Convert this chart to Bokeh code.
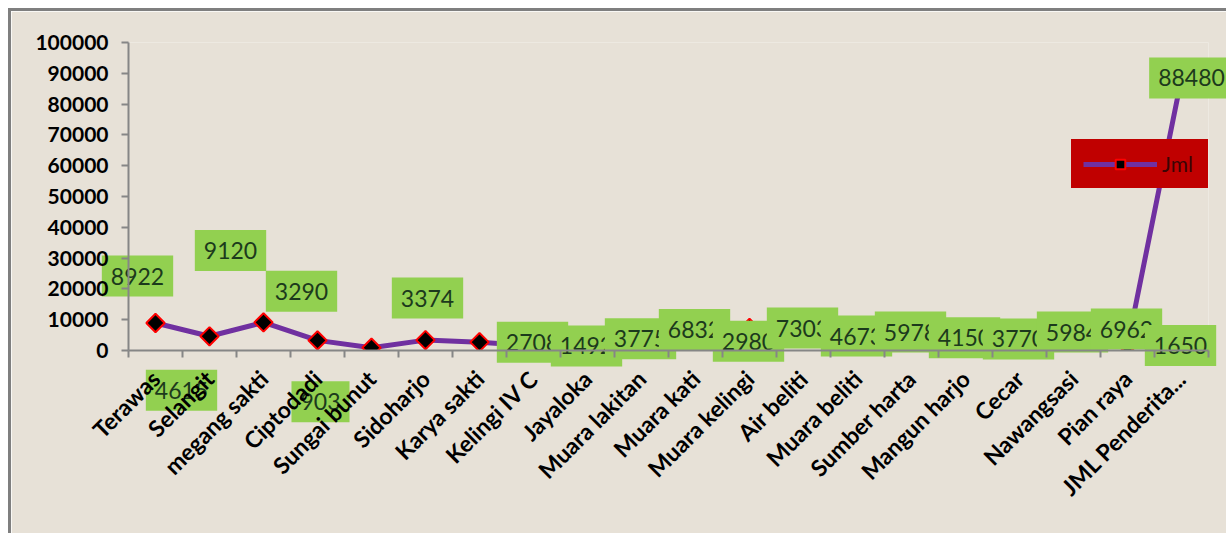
import math
from bokeh.plotting import figure
from bokeh.models import (ColumnDataSource, FixedTicker, Range1d, Legend, LegendItem,
                          BasicTickFormatter)
from bokeh.core.properties import value
from bokeh.embed import file_html
from bokeh.resources import INLINE

# ---- data ----
villages = ["Terawas", "Selangit", "megang sakti", "Ciptodadi", "Sungai bunut",
            "Sidoharjo", "Karya sakti", "Kelingi IV C", "Jayaloka", "Muara lakitan",
            "Muara kati", "Muara kelingi", "Air beliti", "Muara beliti", "Sumber harta",
            "Mangun harjo", "Cecar", "Nawangsasi", "Pian raya", "JML Penderita..."]
jml = [8922, 4615, 9120, 3290, 903, 3374, 2708, 1492, 3775, 6832,
       2980, 7303, 4673, 5978, 4150, 3770, 5984, 6962, 1650, 88480]
y_ticks = [0, 10000, 20000, 30000, 40000, 50000, 60000, 70000, 80000, 90000, 100000]
series_name = "Jml"

# ---- label placement (pixel offsets, styling only; dy positive = up) ----
label_dx = [-18, -28, -33, -16, -51, 2, 53, 53, 53, 53, 53, 53, 53, 53, 53, 53, 53, 53, 53, 10]
label_dy = [47, -54, 72, 49, -54, 42, 0, 0, 0, 0, 0, 0, 0, 0, 0, 0, 0, 0, 0, 0]

xs = list(range(len(villages)))
src = ColumnDataSource(dict(x=xs, y=jml, label=[str(v) for v in jml],
                            dx=label_dx, dy=[-d for d in label_dy]))

BG = "#E7E1D7"
FONT = "Lato"

p = figure(width=1218, height=525, output_backend="svg", toolbar_location=None,
           x_range=Range1d(-0.5, len(villages) - 0.5), y_range=Range1d(0, 100000),
           min_border_left=117, min_border_top=31, min_border_bottom=186,
           min_border_right=21)
p.styles = {"margin-left": "8px", "margin-top": "8px",
            "border-left": "3px solid #7f7f7f", "border-top": "3px solid #7f7f7f"}
p.background_fill_color = BG
p.border_fill_color = BG
p.outline_line_color = None
p.xgrid.visible = False
p.ygrid.visible = False

line_r = p.line("x", "y", source=src, line_color="#7030A0", line_width=5,
                line_join="round")
pts_r = p.scatter("x", "y", source=src, marker="square", angle=math.pi / 4,
                  size=13, fill_color="black", line_color="#FF0000", line_width=2)

# axes
xa = p.xaxis[0]
xa.ticker = FixedTicker(ticks=xs, minor_ticks=[i - 0.5 for i in range(len(villages) + 1)])
xa.major_label_overrides = {i: n for i, n in zip(xs, villages)}
xa.major_label_orientation = math.pi / 4
xa.major_tick_line_color = None
xa.major_tick_out = 0
xa.major_tick_in = 0
xa.minor_tick_out = 7
xa.minor_tick_in = 0
xa.minor_tick_line_color = "#868686"
xa.minor_tick_line_width = 2
xa.axis_line_color = "#868686"
xa.axis_line_width = 2
xa.major_label_text_font = FONT
xa.major_label_text_font_style = "bold"
xa.major_label_text_font_size = "23px"
xa.major_label_text_color = "black"
xa.major_label_standoff = 17

ya = p.yaxis[0]
ya.ticker = FixedTicker(ticks=y_ticks)
ya.formatter = BasicTickFormatter(use_scientific=False)
ya.minor_tick_line_color = None
ya.major_tick_out = 7
ya.major_tick_in = 0
ya.major_tick_line_color = "#868686"
ya.major_tick_line_width = 2
ya.axis_line_color = "#868686"
ya.axis_line_width = 2
ya.major_label_text_font = FONT
ya.major_label_text_font_style = "bold"
ya.major_label_text_font_size = "21px"
ya.major_label_text_color = "black"
ya.major_label_standoff = 13

# data labels (unclipped level so boxes may leave the frame)
p.text("x", "y", text="label", source=src, x_offset="dx", y_offset="dy",
       text_align="center", text_baseline="middle",
       text_font=value(FONT), text_font_size="23px", text_color="#1c3a1c",
       background_fill_color="#92D050",
       padding=dict(top=12, right=9, bottom=12, left=9), level="guide")

# legend
legend = Legend(items=[LegendItem(label=series_name, renderers=[line_r, pts_r])],
                location=(943, 162), padding=12, margin=0, spacing=0,
                glyph_width=74, glyph_height=24, label_standoff=5,
                label_width=52, label_height=24,
                label_text_font=FONT, label_text_font_size="21px",
                label_text_color="#3a0505",
                background_fill_color="#C00000", background_fill_alpha=1,
                border_line_alpha=0)
p.add_layout(legend, "center")

open("out.html", "w").write(file_html(p, INLINE))
